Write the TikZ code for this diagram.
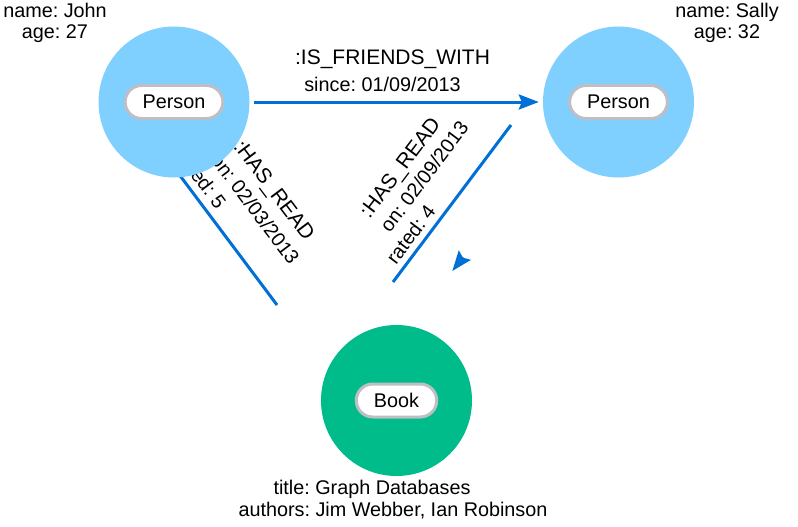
\documentclass[tikz,border=0pt]{standalone}
\usepackage{fontspec}
\setmainfont{Liberation Sans}
\frenchspacing
\usepackage{tikz}
\usetikzlibrary{%
	arrows.meta,% Stealth tips
	shapes.misc,% wg. rounded rectangle
	backgrounds
}
\definecolor{personblue}{RGB}{127,208,255}
\definecolor{bookgreen}{RGB}{0,188,138}
\definecolor{relblue}{RGB}{0,112,214}
\definecolor{tagborder}{RGB}{190,190,196}
\tikzstyle{entity}=[circle, minimum size=151pt, inner sep=0pt]
\tikzstyle{person}=[entity, fill=personblue]
\tikzstyle{book}=[entity, fill=bookgreen]
\tikzstyle{nodetag}=[rounded rectangle, draw=tagborder, line width=3pt, fill=white, minimum height=33pt, inner xsep=16pt, inner ysep=0pt, font=\fontsize{19.8}{22}\selectfont]
\tikzstyle{relation}=[draw=relblue, line width=3pt]
\tikzstyle{relhead}=[-{Stealth[length=20pt, width=15pt, inset=3pt]}]
\tikzstyle{prop}=[font=\fontsize{19.8}{22}\selectfont, inner sep=0pt]
\tikzstyle{reltype}=[font=\fontsize{21}{24}\selectfont, inner sep=0pt]
\pgfdeclarelayer{bg}
\pgfsetlayers{bg,main}

\begin{document}
\begin{tikzpicture}[x=1pt, y=-1pt]
	\useasboundingbox (0,0) rectangle (798,527);
	
	% First we draw the entities
	\node[person] (john) at (174,102) {};
	\node[person] (sally) at (618.5,102) {};
	\node[book] (book) at (396.5,400.5) {};
	
	% Tags on top of the entities
	\foreach \name/\tag in {john/Person, sally/Person, book/Book}
	\node[nodetag] (\name-tag) at (\name) {\tag};
	
	% Properties of the entities
	\foreach \pos/\name/\txt in {
		(55,18)/john-name/name: John,
		(55,39)/john-age/age: 27,
		(727,18)/sally-name/name: Sally,
		(727,39)/sally-age/age: 32,
		(372,494.3)/book-title/title: Graph Databases,
		(393,516.7)/book-authors/{authors: Jim Webber, Ian Robinson}%
	}
	\node[prop, anchor=base] (\name) at \pos {\txt};
	
	% Connectors and their labels, behind the entities
	\begin{pgfonlayer}{bg}
		\coordinate (john-read) at (178,173);
		\coordinate (john-read-end) at (277,305);
		\coordinate (sally-read) at (511,125);
		\coordinate (sally-read-end) at (393,282);
		\coordinate (stray-back) at (463.1,257.3);
		\coordinate (stray-tip) at (452.3,271);
		
		\path[relation, relhead, shorten <=4pt, shorten >=4pt] (john) -- (sally);
		\path[relation] (john-read) -- (john-read-end);
		\path[relation] (sally-read) -- (sally-read-end);
		\path[relation, relhead] (stray-back) -- (stray-tip);
		
		% Label of the IS_FRIENDS_WITH connector
		\node[reltype, anchor=base] (friends-type) at (392.5,65) {:IS\_FRIENDS\_WITH};
		\node[prop, anchor=base] (friends-since) at (382.5,91.5) {since: 01/09/2013};
		
		% Labels of the HAS_READ connectors
		\node[reltype, rotate=-53] (john-read-type) at (273,191.4) {:HAS\_READ};
		\node[prop, rotate=-53] (john-read-on) at (255.3,208.8) {on: 02/03/2013};
		\node[prop, rotate=-53] (john-read-rated) at (201.7,179.3) {rated: 5};
		\node[reltype, rotate=53] (sally-read-type) at (401.3,168.6) {:HAS\_READ};
		\node[prop, rotate=53] (sally-read-on) at (424.1,176.6) {on: 02/09/2013};
		\node[prop, rotate=53] (sally-read-rated) at (410.6,234.2) {rated: 4};
	\end{pgfonlayer}
	
\end{tikzpicture}
\end{document}
